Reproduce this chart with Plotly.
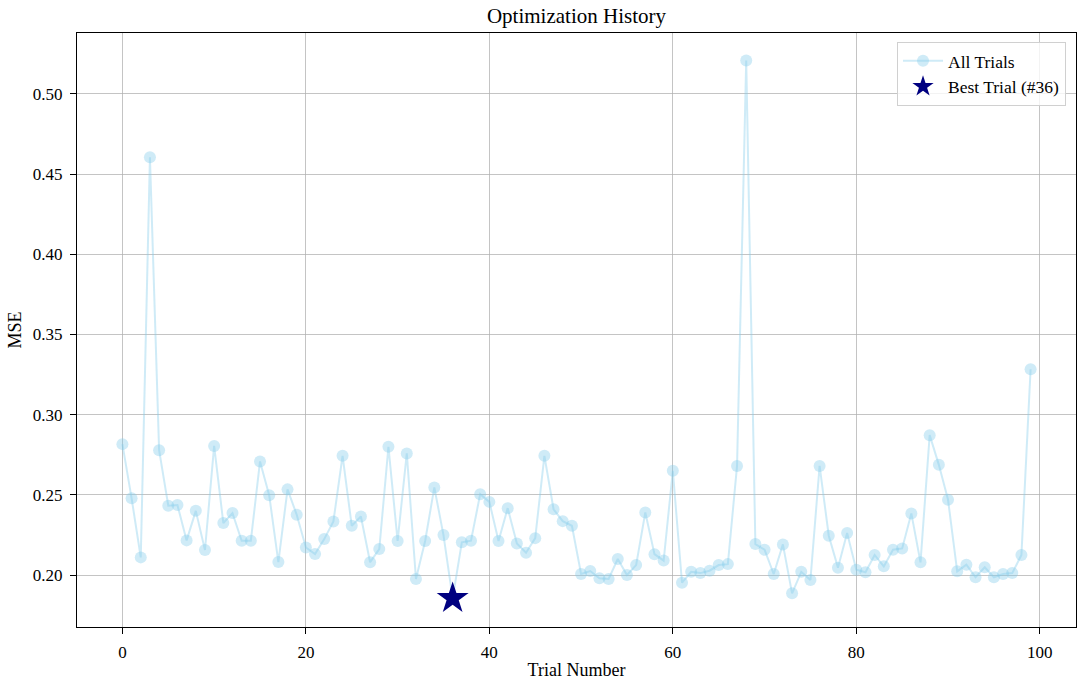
import plotly.graph_objects as go

trial_numbers = list(range(100))
mse_values = [
    0.2816, 0.2479, 0.2110, 0.4605, 0.2778, 0.2432, 0.2436, 0.2216, 0.2400, 0.2156,
    0.2805, 0.2324, 0.2386, 0.2214, 0.2214, 0.2708, 0.2498, 0.2081, 0.2534, 0.2376,
    0.2172, 0.2131, 0.2224, 0.2334, 0.2743, 0.2307, 0.2365, 0.2080, 0.2162, 0.2799,
    0.2212, 0.2758, 0.1975, 0.2212, 0.2546, 0.2249, 0.1855, 0.2204, 0.2214, 0.2504,
    0.2456, 0.2212, 0.2417, 0.2197, 0.2139, 0.2230, 0.2743, 0.2410, 0.2336, 0.2307,
    0.2006, 0.2025, 0.1980, 0.1975, 0.2100, 0.2000, 0.2062, 0.2390, 0.2130, 0.2090,
    0.2650, 0.1952, 0.2020, 0.2012, 0.2027, 0.2062, 0.2068, 0.2680, 0.5207, 0.2193,
    0.2158, 0.2006, 0.2191, 0.1886, 0.2020, 0.1969, 0.2680, 0.2245, 0.2046, 0.2262,
    0.2033, 0.2017, 0.2125, 0.2054, 0.2158, 0.2166, 0.2384, 0.2079, 0.2872, 0.2687,
    0.2469, 0.2023, 0.2064, 0.1986, 0.2048, 0.1986, 0.2006, 0.2012, 0.2125, 0.3283,
]
best_index = 36
x_ticks = [0, 20, 40, 60, 80, 100]
y_ticks = [0.20, 0.25, 0.30, 0.35, 0.40, 0.45, 0.50]

FONT = "Liberation Serif, Times New Roman, serif"

fig = go.Figure()
fig.add_trace(go.Scatter(
    x=trial_numbers, y=mse_values, mode="lines+markers", name="All Trials",
    line=dict(color="rgba(135,206,235,0.4)", width=2),
    marker=dict(color="rgba(135,206,235,0.4)", size=12, line=dict(width=0)),
))
fig.add_trace(go.Scatter(
    x=[trial_numbers[best_index]], y=[mse_values[best_index]], mode="markers",
    name=f"Best Trial (#{best_index})",
    marker=dict(symbol="star", color="navy", size=24, line=dict(width=0)),
))

axis_common = dict(
    showline=True, linecolor="black", linewidth=1, mirror=True,
    ticks="outside", ticklen=6, tickcolor="black", ticklabelstandoff=4,
    showgrid=True, gridcolor="rgba(176,176,176,0.75)", gridwidth=1,
    zeroline=False, automargin=False,
    tickfont=dict(family=FONT, size=17, color="black"),
)

fig.update_layout(
    width=1080, height=680,
    margin=dict(l=77, r=4, t=33, b=53),
    paper_bgcolor="white", plot_bgcolor="white",
    title=dict(text="Optimization History", x=(77 + 1076) / 2 / 1080, xanchor="center",
               y=1 - 16 / 680, yanchor="middle",
               font=dict(family=FONT, size=21, color="black")),
    xaxis=dict(axis_common, range=[-4.95, 103.95], tickvals=x_ticks,
               title=dict(text="Trial Number", font=dict(family=FONT, size=18, color="black"), standoff=4)),
    yaxis=dict(axis_common, range=[0.1676, 0.5379], tickvals=y_ticks, tickformat=".2f",
               title=dict(text="MSE", font=dict(family=FONT, size=18, color="black"), standoff=6)),
    legend=dict(x=0.99, y=0.985, xanchor="right", yanchor="top",
                bgcolor="rgba(255,255,255,0.8)", bordercolor="#d0d0d0", borderwidth=1,
                font=dict(family=FONT, size=17.5, color="black"), itemwidth=40,
                tracegroupgap=0),
    showlegend=True,
)

fig.write_html("out.html", post_script="document.body.style.margin='0';",
               config={"displayModeBar": False})
